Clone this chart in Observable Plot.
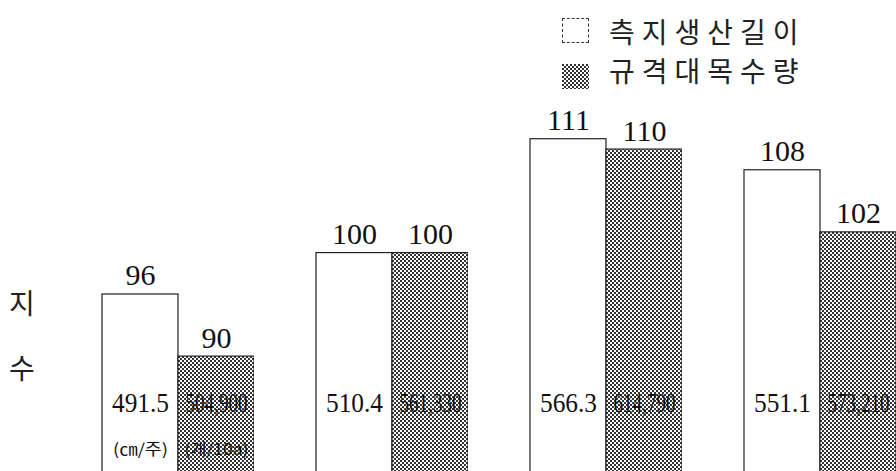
<!DOCTYPE html>
<html><head><meta charset="utf-8">
<script src="https://cdn.jsdelivr.net/npm/d3@7"></script>
<script src="https://cdn.jsdelivr.net/npm/@observablehq/plot@0.6"></script>
<style>
body{margin:0;background:#fff;}
#wrap{position:relative;width:896px;height:471px;overflow:hidden;background:#fff;}
#chart svg{display:block;}
#legend{position:absolute;left:562px;top:11px;font-family:"Noto Sans CJK KR",sans-serif;font-size:28px;color:#222;letter-spacing:7px;}
#legend .row{display:flex;align-items:center;height:39px;}
#legend .sw{width:27px;height:25px;margin-right:20px;box-sizing:border-box;display:inline-block;}
#ylab{position:absolute;left:9px;top:270px;font-family:"Noto Sans CJK KR",sans-serif;font-size:28px;line-height:65px;color:#222;}
</style></head><body>
<svg width="0" height="0" style="position:absolute"><defs>
<pattern id="dots" width="4" height="4" patternUnits="userSpaceOnUse">
<rect width="4" height="4" fill="#fff"/><rect width="2" height="2" fill="#333"/><rect x="2" y="2" width="2" height="2" fill="#333"/>
</pattern></defs></svg>
<div id="wrap"><div id="chart"></div><div id="legend"></div><div id="ylab">지<br>수</div></div>
<script>
const groups = ["1", "2", "3", "4"];
const series = ["측지생산길이", "규격대목수량"];
const indexLength = [96, 100, 111, 108];
const indexCount = [90, 100, 110, 102];
const rawLength = ["491.5", "510.4", "566.3", "551.1"];
const rawCount = ["504,900", "561,330", "614,790", "573,210"];
const units = ["(㎝/주)", "(개/10a)"];

const rows = groups.flatMap((g, i) => [
  {group: g, series: series[0], index: indexLength[i], raw: rawLength[i]},
  {group: g, series: series[1], index: indexCount[i], raw: rawCount[i]}
]);
const unitRows = series.map((s, j) => ({group: groups[0], series: s, unit: units[j]}));

const serif = "Liberation Serif, serif";
const chart = Plot.plot({
  width: 896, height: 471,
  marginTop: 0, marginBottom: 0, marginLeft: 99, marginRight: -2,
  fx: {domain: groups, paddingInner: 0.2837, paddingOuter: 0, axis: null},
  x: {domain: series, padding: 0, axis: null},
  y: {domain: [78.9, 124.4], axis: null},
  marks: [
    Plot.barY(rows.filter(d => d.series === series[0]), {fx: "group", x: "series", y: "index", fill: "#fff", stroke: "#222", strokeWidth: 1.2, clip: true}),
    Plot.barY(rows.filter(d => d.series === series[1]), {fx: "group", x: "series", y: "index", fill: "url(#dots)", stroke: "#222", strokeWidth: 1.2, clip: true}),
    Plot.text(rows, {fx: "group", x: "series", y: "index", text: d => String(d.index), lineAnchor: "bottom", dy: -9, fontSize: 30, fontFamily: serif, fill: "#111"}),
    Plot.text(rows, {fx: "group", x: "series", text: "raw", frameAnchor: "bottom", dy: -60, fontSize: 27, fontFamily: serif, fill: "#111"}),
    Plot.text(unitRows, {fx: "group", x: "series", text: "unit", frameAnchor: "bottom", dy: -17, fontSize: 16, fontFamily: "Noto Sans CJK KR, sans-serif", fill: "#111"})
  ]
});
document.getElementById("chart").appendChild(chart);
d3.select(chart).selectAll("text").each(function() {
  const t = this.textContent;
  if (rawCount.includes(t)) { this.setAttribute("textLength", 62); this.setAttribute("lengthAdjust", "spacingAndGlyphs"); }
  else if (rawLength.includes(t)) { this.setAttribute("textLength", 57); this.setAttribute("lengthAdjust", "spacingAndGlyphs"); }
  else if (t === units[0]) { this.setAttribute("textLength", 55); this.setAttribute("lengthAdjust", "spacingAndGlyphs"); }
  else if (t === units[1]) { this.setAttribute("textLength", 64); this.setAttribute("lengthAdjust", "spacingAndGlyphs"); }
});

const legend = d3.select("#legend");
series.forEach((s, j) => {
  const row = legend.append("div").attr("class", "row");
  const sw = row.append("span").attr("class", "sw");
  if (j === 0) sw.style("border", "1.5px dashed #333").style("background", "#fff");
  else sw.append("svg").attr("width", 27).attr("height", 25).append("rect").attr("width", 27).attr("height", 25).attr("fill", "url(#dots)");
  row.append("span").text(s);
});
</script>
</body></html>
